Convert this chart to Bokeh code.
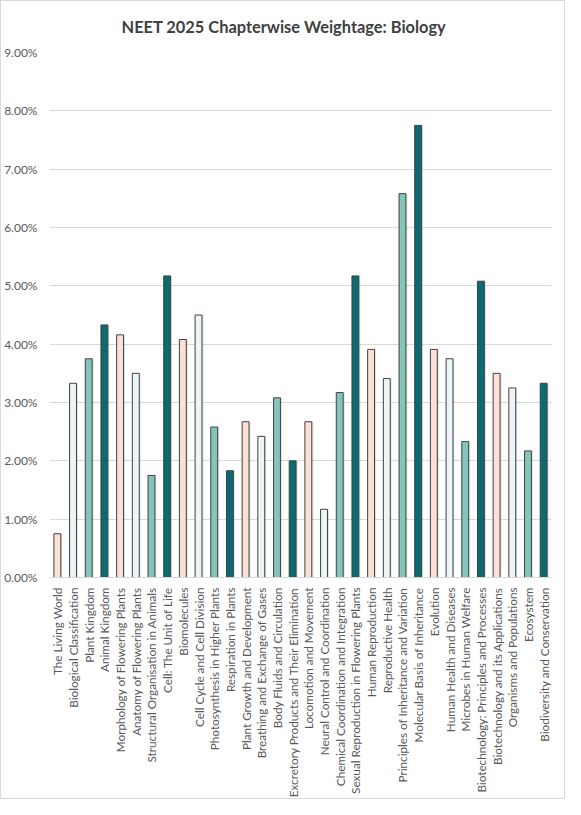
from bokeh.plotting import figure
from bokeh.models import ColumnDataSource, NumeralTickFormatter, FixedTicker
from bokeh.transform import dodge
from bokeh.embed import file_html
from bokeh.resources import INLINE

chapters = [
    "The Living World", "Biological Classification", "Plant Kingdom", "Animal Kingdom",
    "Morphology of Flowering Plants", "Anatomy of Flowering Plants",
    "Structural Organisation in Animals", "Cell: The Unit of Life", "Biomolecules",
    "Cell Cycle and Cell Division", "Photosynthesis in Higher Plants", "Respiration in Plants",
    "Plant Growth and Development", "Breathing and Exchange of Gases",
    "Body Fluids and Circulation", "Excretory Products and Their Elimination",
    "Locomotion and Movement", "Neural Control and Coordination",
    "Chemical Coordination and Integration", "Sexual Reproduction in Flowering Plants",
    "Human Reproduction", "Reproductive Health", "Principles of Inheritance and Variation",
    "Molecular Basis of Inheritance", "Evolution", "Human Health and Diseases",
    "Microbes in Human Welfare", "Biotechnology: Principles and Processes",
    "Biotechnology and its Applications", "Organisms and Populations", "Ecosystem",
    "Biodiversity and Conservation",
]
weightage = [
    0.0075, 0.0333, 0.0375, 0.0433, 0.0416, 0.0350, 0.0175, 0.0517, 0.0408, 0.0450,
    0.0258, 0.0183, 0.0267, 0.0242, 0.0308, 0.0200, 0.0267, 0.0117, 0.0317, 0.0517,
    0.0391, 0.0341, 0.0658, 0.0775, 0.0391, 0.0375, 0.0233, 0.0508, 0.0350, 0.0325,
    0.0217, 0.0333,
]
palette = ["#fde0d5", "#edf5f9", "#84c5ba", "#0b6a72"]
colors = [palette[i % 4] for i in range(len(chapters))]

source = ColumnDataSource(data=dict(chapter=chapters, w=weightage, color=colors))

FONT = "Lato"

p = figure(x_range=chapters, y_range=(0, 0.09), width=565, height=799,
           output_backend="svg", toolbar_location=None, tools="",
           title="NEET 2025 Chapterwise Weightage: Biology",
           min_border_left=46, min_border_right=15, min_border_top=50,
           min_border_bottom=213)

p.title.align = "left"
p.title.offset = 72
p.title.standoff = 30
p.title.vertical_align = "top"
p.title.text_font = FONT
p.title.text_font_size = "12.3pt"
p.title.text_color = "#404040"

# soft shadow behind each bar
p.vbar(x=dodge("chapter", 0.1, range=p.x_range), top="w", width=0.44, source=source,
       fill_color="#000000", fill_alpha=0.10, line_color=None)
p.vbar(x="chapter", top="w", width=0.44, source=source,
       fill_color="color", line_color="#404040", line_width=1)

p.yaxis.ticker = FixedTicker(ticks=[i / 100 for i in range(10)])
p.yaxis.formatter = NumeralTickFormatter(format="0.00%")
p.yaxis.axis_line_color = None
p.yaxis.major_tick_line_color = None
p.yaxis.minor_tick_line_color = None
p.yaxis.major_label_text_color = "#595959"
p.yaxis.major_label_text_font = FONT
p.yaxis.major_label_text_font_size = "9pt"
p.yaxis.major_label_standoff = 6

p.xaxis.major_label_orientation = 1.5708
p.xaxis.major_label_text_color = "#595959"
p.xaxis.major_label_text_font = FONT
p.xaxis.major_label_text_font_size = "8.8pt"
p.xaxis.axis_line_color = "#d9d9d9"
p.xaxis.major_tick_line_color = None
p.xaxis.major_label_standoff = 4

p.xgrid.grid_line_color = None
p.ygrid.grid_line_color = "#d9d9d9"
p.outline_line_color = None
p.x_range.range_padding = 0
p.styles = {"border": "1px solid #d9d9d9"}

open("out.html", "w").write(file_html(p, INLINE))
